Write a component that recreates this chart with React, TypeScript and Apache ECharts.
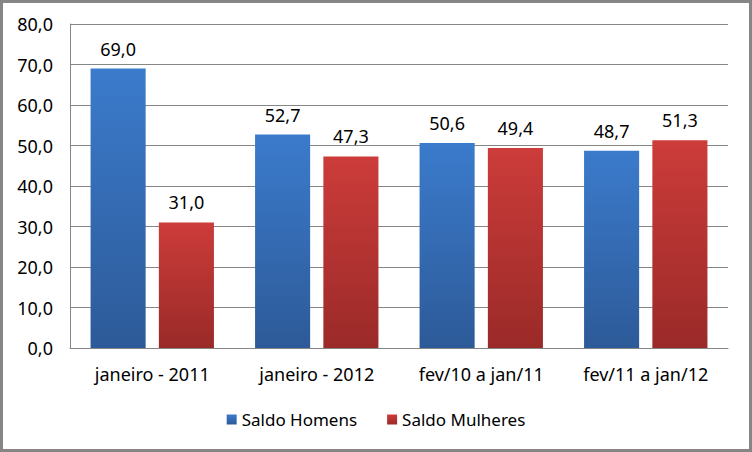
import React, { useEffect, useRef } from "react";
import * as echarts from "echarts";

const categories = ["janeiro - 2011", "janeiro - 2012", "fev/10 a jan/11", "fev/11 a jan/12"];
const saldoHomens = [69.0, 52.7, 50.6, 48.7];
const saldoMulheres = [31.0, 47.3, 49.4, 51.3];
const seriesNames = ["Saldo Homens", "Saldo Mulheres"];

const FONT = "'Noto Sans', 'Open Sans', sans-serif";
const FS = 18;
const fmt = (v: number) => v.toFixed(1).replace(".", ",");

export default function App() {
  const ref = useRef<HTMLDivElement>(null);
  useEffect(() => {
    if (!ref.current) return;
    const chart = echarts.init(ref.current, undefined, { renderer: "svg" });
    const grad = (top: string, bottom: string) =>
      new echarts.graphic.LinearGradient(0, 0, 0, 1, [
        { offset: 0, color: top },
        { offset: 1, color: bottom },
      ]);
    chart.setOption({
      animation: false,
      backgroundColor: "#ffffff",
      grid: { left: 67, right: 21, top: 21, bottom: 101 },
      legend: {
        bottom: 16,
        left: "center",
        itemWidth: 10,
        itemHeight: 10,
        itemGap: 30,
        icon: "rect",
        textStyle: { fontFamily: FONT, fontSize: 17, color: "#000" },
        data: seriesNames,
      },
      xAxis: {
        type: "category",
        data: categories,
        axisLine: { lineStyle: { color: "#868686" } },
        axisTick: { show: false },
        axisLabel: { fontFamily: FONT, fontSize: FS, color: "#000", margin: 17 },
      },
      yAxis: {
        type: "value",
        min: 0,
        max: 80,
        interval: 10,
        axisLine: { show: true, lineStyle: { color: "#868686" } },
        axisTick: { show: false },
        splitLine: { lineStyle: { color: "#868686" } },
        axisLabel: {
          fontFamily: FONT,
          fontSize: FS,
          color: "#000",
          margin: 17,
          formatter: (v: number) => fmt(v),
        },
      },
      series: [
        {
          name: seriesNames[0],
          type: "bar",
          data: saldoHomens,
          barGap: "24%",
          barCategoryGap: "25%",
          itemStyle: { color: grad("#3b7bcc", "#2d5a98") },
          label: {
            show: true,
            position: "top",
            distance: 11,
            fontFamily: FONT,
            fontSize: FS,
            color: "#000",
            formatter: (p: any) => fmt(p.value),
          },
        },
        {
          name: seriesNames[1],
          type: "bar",
          data: saldoMulheres,
          itemStyle: { color: grad("#cc3c3a", "#9a2a28") },
          label: {
            show: true,
            position: "top",
            distance: 11,
            fontFamily: FONT,
            fontSize: FS,
            color: "#000",
            formatter: (p: any) => fmt(p.value),
          },
        },
      ],
    });
    return () => chart.dispose();
  }, []);
  return (
    <div
      style={{
        position: "fixed",
        left: 0,
        top: 0,
        width: 752,
        height: 452,
        boxSizing: "border-box",
        border: "3px solid #868686",
        background: "#fff",
      }}
    >
      <div ref={ref} style={{ width: 746, height: 446 }} />
    </div>
  );
}
